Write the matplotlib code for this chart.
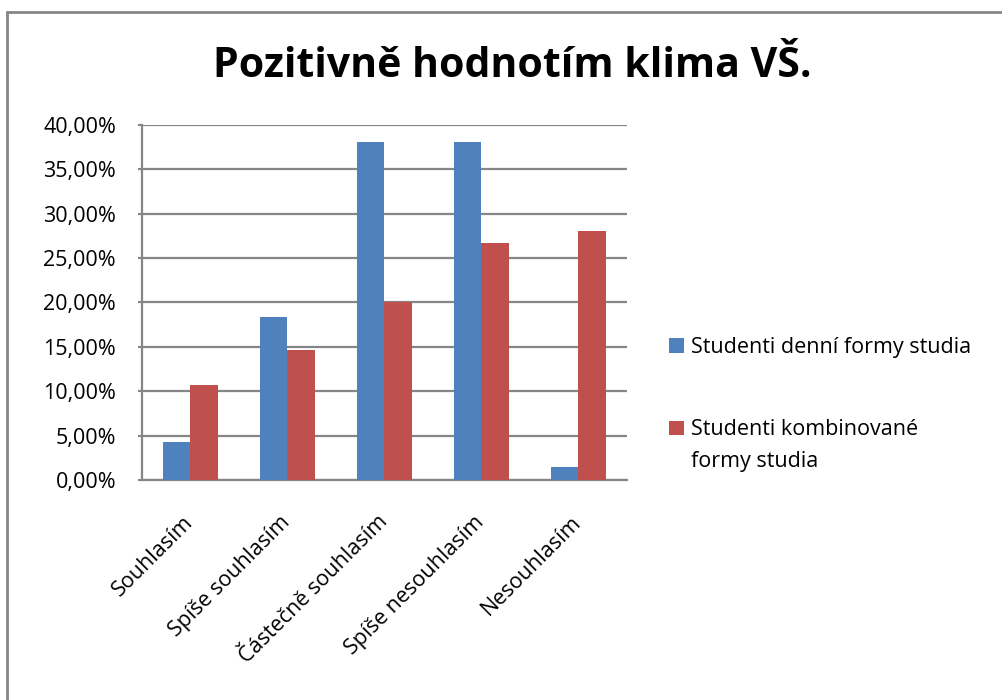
import matplotlib.pyplot as plt
import matplotlib.patches as mpatches
from matplotlib.ticker import FuncFormatter
import numpy as np

#### data ####
categories = ['Souhlasím', 'Spíše souhlasím', 'Částečně souhlasím',
              'Spíše nesouhlasím', 'Nesouhlasím']
denni = [4.23, 18.31, 38.03, 38.03, 1.41]
kombinovane = [10.67, 14.67, 20.00, 26.67, 28.00]
series_names = [['Studenti denní formy studia'],
                ['Studenti kombinované', 'formy studia']]
colors = ['#4F81BD', '#C0504D']
grid_col = '#868686'

plt.rcParams['font.family'] = ['Open Sans', 'DejaVu Sans']

W, H = 1003, 700

#### figure ####
fig = plt.figure(figsize=(W / 100, H / 100), dpi=100)
ax = fig.add_axes([141.7 / W, 1 - 480 / H, 485 / W, 355.3 / H])

x = np.arange(len(categories))
w = 0.285
ax.bar(x - w / 2, denni, w, color=colors[0], zorder=3)
ax.bar(x + w / 2, kombinovane, w, color=colors[1], zorder=3)

ax.set_xlim(-0.5, len(categories) - 0.5)
ax.set_ylim(0, 40)
ax.set_yticks(np.arange(0, 41, 5))
ax.yaxis.set_major_formatter(FuncFormatter(lambda v, p: f'{v:.2f}%'.replace('.', ',')))
ax.grid(axis='y', color=grid_col, linewidth=1.6, zorder=0)

for side in ['right', 'top']:
    ax.spines[side].set_visible(False)
for side in ['left', 'bottom']:
    ax.spines[side].set_color(grid_col)
    ax.spines[side].set_linewidth(1.6)

ax.tick_params(axis='y', length=3, color=grid_col, width=1.5, labelsize=15.5, pad=15.5)
ax.tick_params(axis='x', length=0, labelsize=15.5, pad=28)
ax.set_xticks(x)
ax.set_xticklabels(categories, rotation=45, ha='right', va='center',
                   rotation_mode='anchor')

#### title ####
fig.text(512 / W, 1 - 77 / H, 'Pozitivně hodnotím klima VŠ.', ha='center',
         va='baseline', fontsize=29.5, fontweight='bold')

#### legend ####
sq_top = [338, 420.5]
baselines = [352.5, 435]
for col, lines, top, base in zip(colors, series_names, sq_top, baselines):
    fig.patches.append(mpatches.Rectangle((669 / W, 1 - (top + 14.5) / H), 15 / W, 14.5 / H,
                                          transform=fig.transFigure, facecolor=col,
                                          edgecolor='none'))
    for i, line in enumerate(lines):
        fig.text(691 / W, 1 - (base + 32 * i) / H, line, ha='left', va='baseline',
                 fontsize=15.5)

#### frame ####
fig.patches.append(mpatches.Rectangle((7 / W, -0.1), 1.2, 1.1 - 12.5 / H,
                                      transform=fig.transFigure, fill=False,
                                      edgecolor=grid_col, linewidth=2))

fig.savefig('out.png', dpi=100)
